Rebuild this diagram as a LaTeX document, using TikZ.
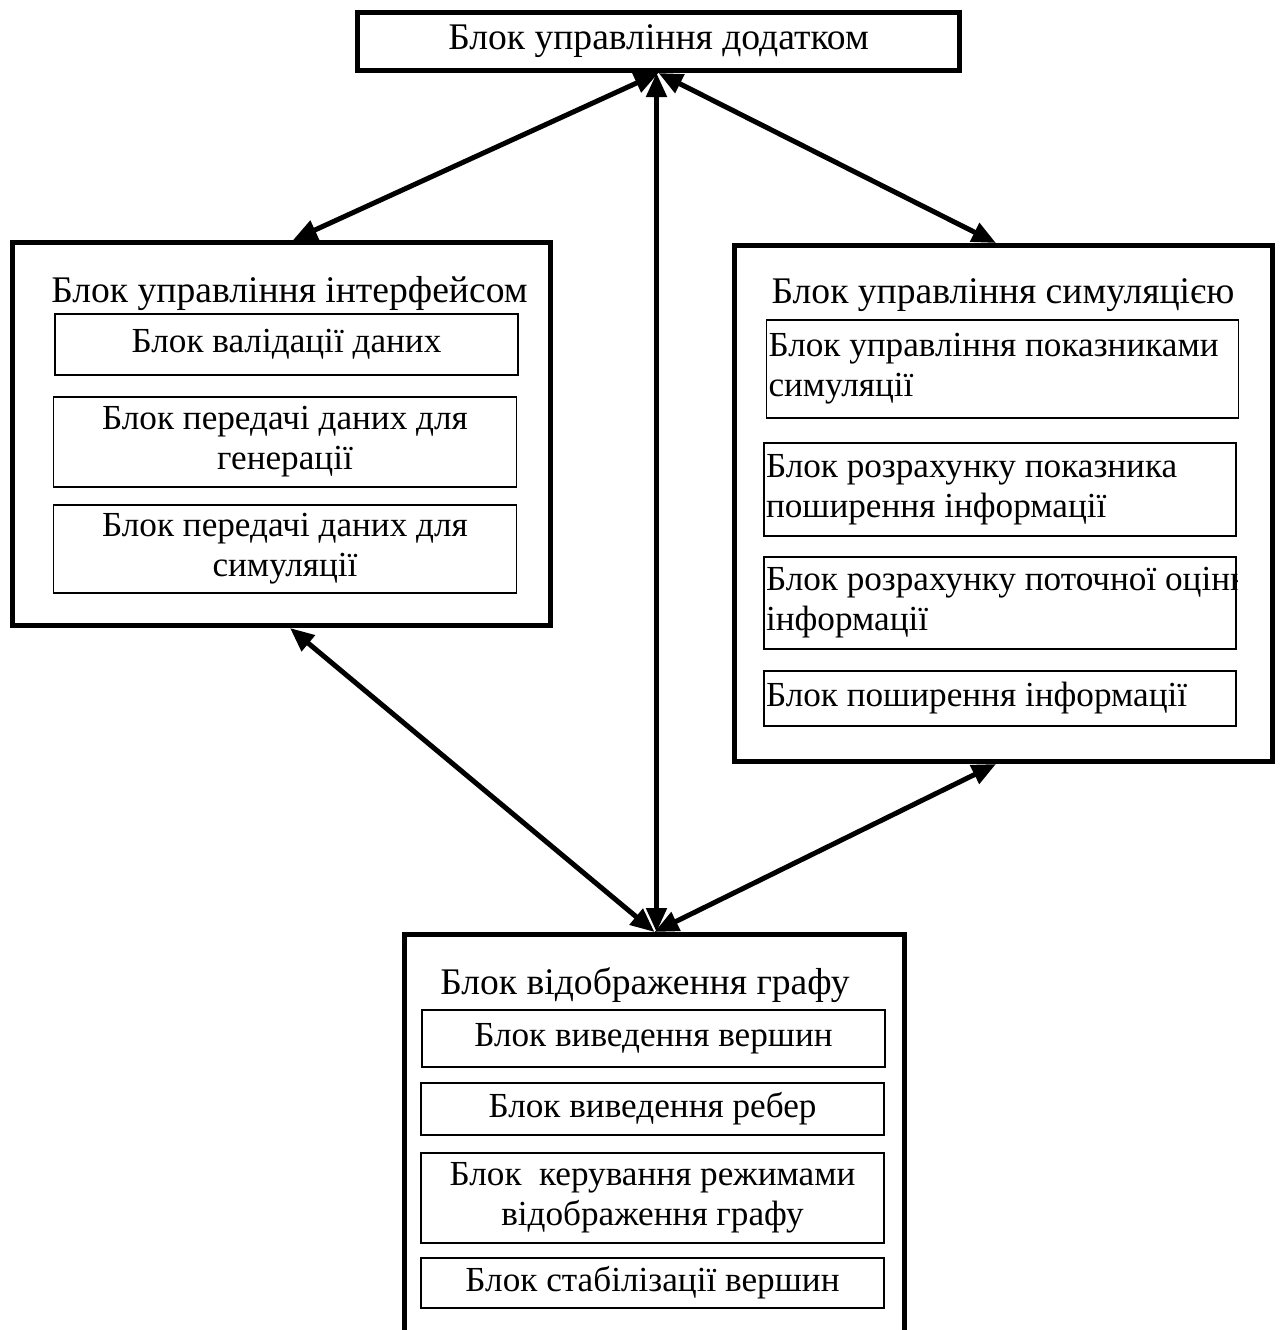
\documentclass[tikz,border=0pt]{standalone}
\usepackage{fontspec}
\setmainfont{Liberation Serif}
\usepackage{tikz}
\usetikzlibrary{arrows.meta,positioning}

\begin{document}
\begin{tikzpicture}[
  x=0.5pt,y=-0.5pt,
  every node/.style={font=\fontsize{18.8}{21}\selectfont},
  outer/.style={draw,line width=2.5pt,inner sep=0pt},
  title/.style={inner sep=0pt,align=center},
  part/.style={draw,line width=0.7pt,align=flush center,text width=229.5pt,inner xsep=1pt,inner ysep=0pt,
               font=\fontsize{17.6}{20}\selectfont},
  partl/.style={draw,line width=0.7pt,align=flush left,text width=234pt,inner xsep=1pt,inner ysep=0pt,
                font=\fontsize{17.6}{20}\selectfont},
  link/.style={{Triangle[length=12pt,width=10pt]}-{Triangle[length=12pt,width=10pt]},line width=2.5pt}
]
\useasboundingbox (0,0) rectangle (1281,1330);
\clip (0,0) rectangle (1281,1330);
% top block
\node[outer,minimum width=301pt,minimum height=29pt] (top) at (658.5,41.5) {Блок управління додатком};
% interface block
\node[outer,minimum width=269pt,minimum height=191.5pt] (ui) at (281.5,434) {};
\node[title] (uit) at (289.5,294) {Блок управління інтерфейсом};
\node[part,minimum height=30.5pt] (ui1) at (286.5,344.5) {Блок валідації даних};
\node[part,minimum height=45pt] (ui2) at (285,442) {Блок передачі даних для\\генерації};
\node[part,minimum height=44pt] (ui3) at (285,549) {Блок передачі даних для\\симуляції};
% simulation block
\node[outer,minimum width=269pt,minimum height=258pt] (sim) at (1003.5,503.5) {};
\node[title] (simt) at (1003,295) {Блок управління симуляцією};
\node[partl,minimum height=49pt] (sim1) at (1002.5,369) {Блок управління показниками\\симуляції};
\node[partl,minimum height=46.5pt] (sim2) at (1000,489.5) {Блок розрахунку показника\\поширення інформації};
\begin{scope}
  \clip (763,556) rectangle (1237,650);
  \node[partl,minimum height=46pt] (sim3) at (1000,603) {\mbox{Блок розрахунку поточної оцінки}\\інформації};
\end{scope}
\node[partl,minimum height=27.5pt] (sim4) at (1000,698.5) {Блок поширення інформації};
% graph block
\node[outer,minimum width=250pt,minimum height=212.75pt] (graph) at (654.5,1147.25) {};
\node[title] (grapht) at (645,985) {Блок відображення графу};
\node[part,minimum height=28.5pt] (g1) at (653.5,1038.5) {Блок виведення вершин};
\node[part,minimum height=26pt] (g2) at (652.5,1109) {Блок виведення ребер};
\node[part,minimum height=45pt] (g3) at (652.5,1198) {Блок\ \ керування режимами\\відображення графу};
\node[part,minimum height=25pt] (g4) at (652.5,1283) {Блок стабілізації вершин};
% links
\draw[link] (top.south) -- ([xshift=5.75pt]ui.north);
\draw[link] (top.south) -- ([xshift=-3.75pt]sim.north);
\draw[link] ([xshift=1pt]graph.north |- top.south) -- ([xshift=1pt]graph.north);
\draw[link] ([xshift=4.25pt]ui.south) -- (graph.north);
\draw[link] ([xshift=-3.75pt]sim.south) -- (graph.north);
\end{tikzpicture}
\end{document}
